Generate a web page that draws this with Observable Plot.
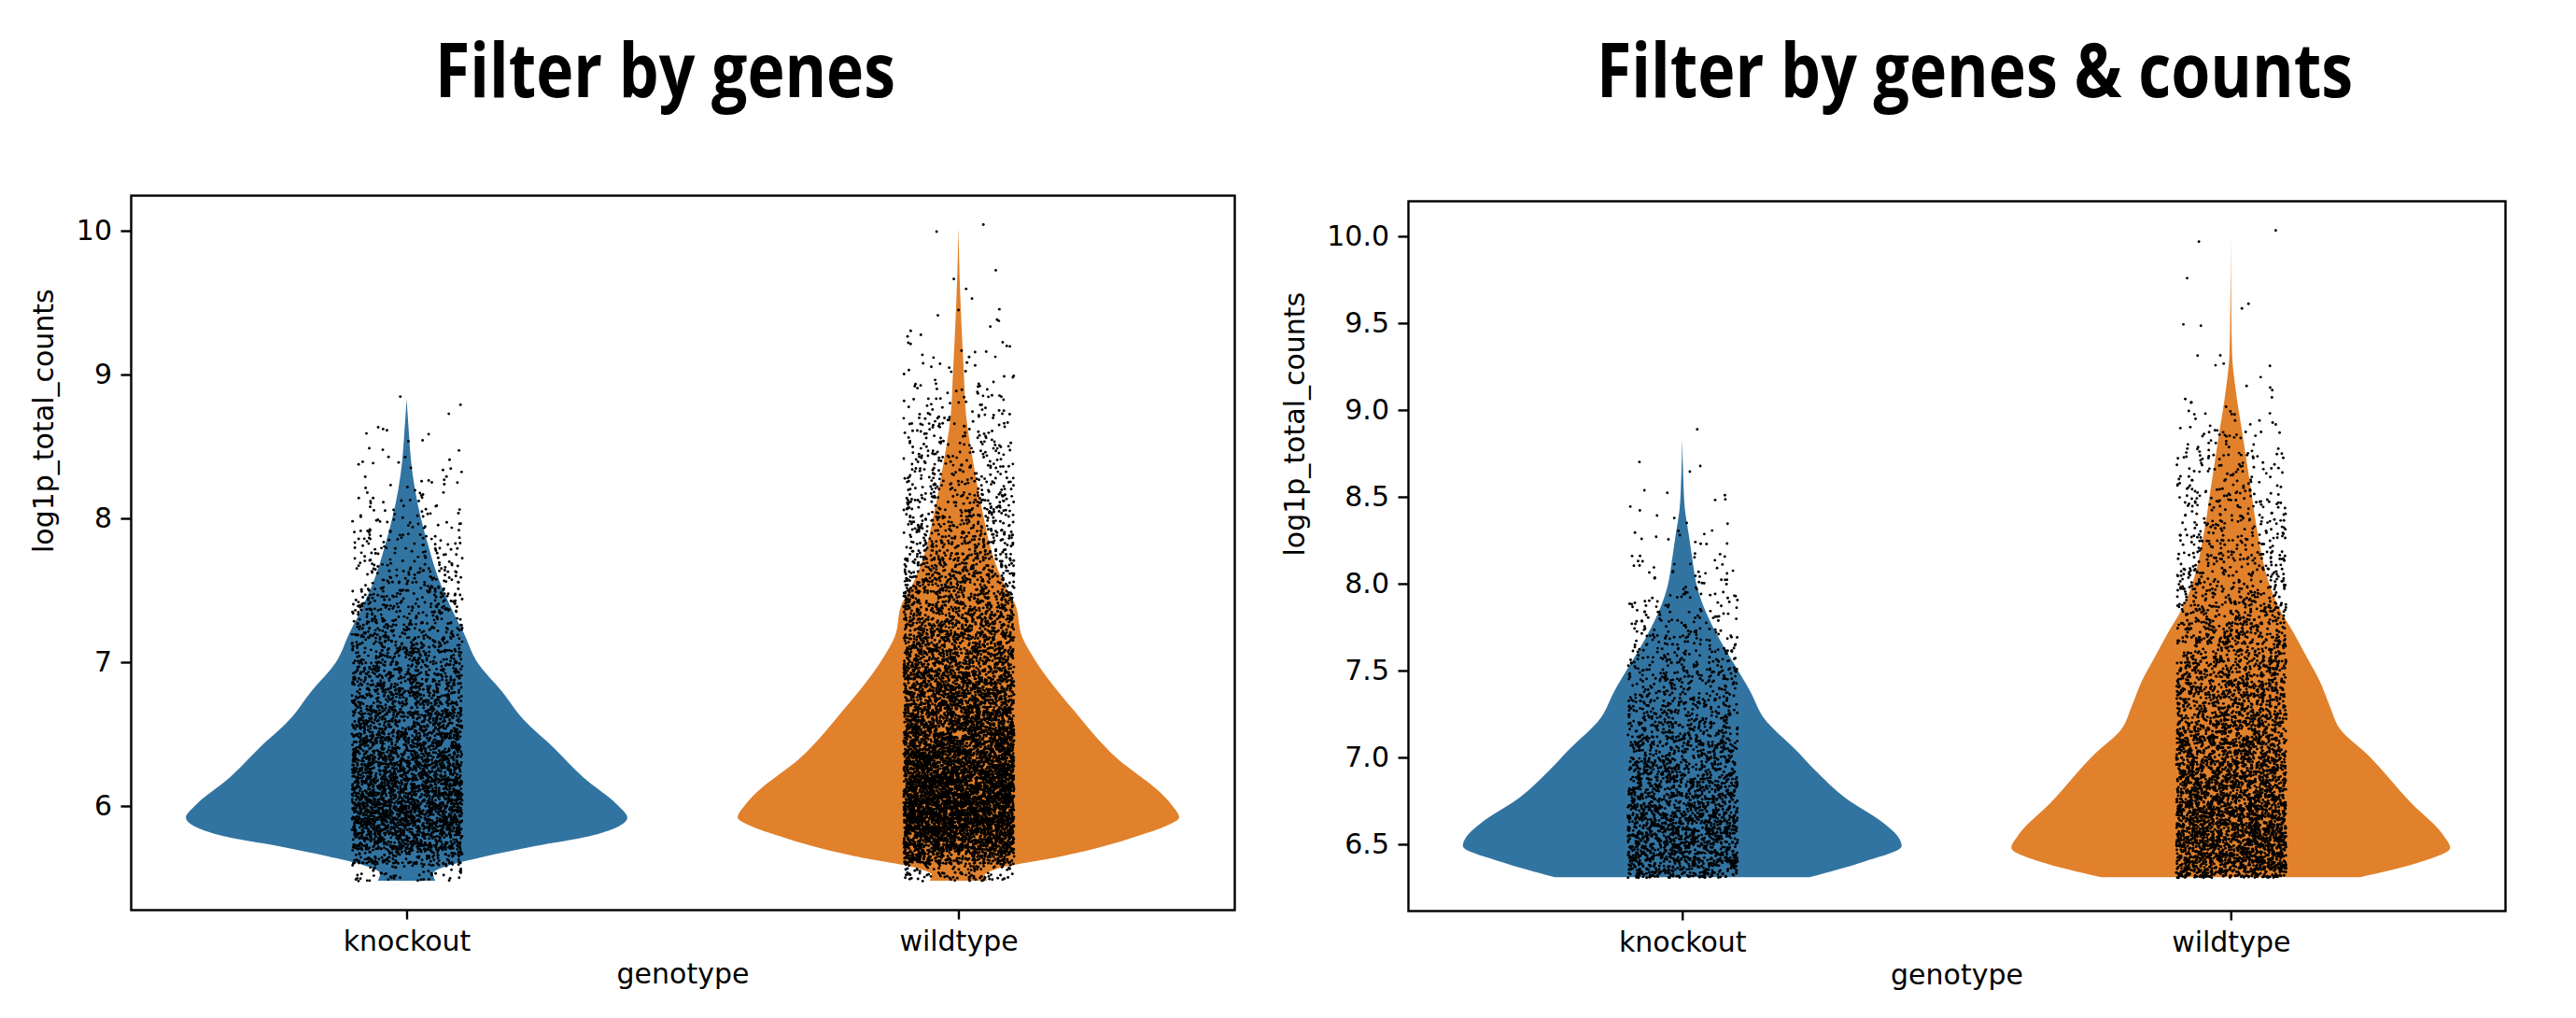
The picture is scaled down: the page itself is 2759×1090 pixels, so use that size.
<!DOCTYPE html>
<html><head><meta charset="utf-8">
<script src="https://cdn.jsdelivr.net/npm/d3@7"></script>
<script src="https://cdn.jsdelivr.net/npm/@observablehq/plot@0.6"></script>
<style>
body{margin:0;background:#fff;}
#root{position:relative;width:2759px;height:1090px;overflow:hidden;background:#fff;}
.title{position:absolute;top:33px;font-family:"Open Sans",sans-serif;font-weight:700;font-size:80px;white-space:nowrap;line-height:1;transform-origin:left top;color:#000;}
.panel{position:absolute;top:150px;}
</style></head><body><div id="root"></div>
<script>
// ---------- data ----------
const genotypes = ["knockout", "wildtype"];
const panelTitles = ["Filter by genes", "Filter by genes & counts"];
const yLabel = "log1p_total_counts";
const xLabel = "genotype";
const colors = ["#3274a1", "#e1812c"];
const ticksGenes = [6, 7, 8, 9, 10];
const ticksCounts = [6.5, 7.0, 7.5, 8.0, 8.5, 9.0, 9.5, 10.0];

// violin outlines: y value and relative half-width (1 = widest)
const koGenesV = [5.48, 5.53, 5.59, 5.65, 5.72, 5.79, 5.85, 5.92, 6.0, 6.2, 6.4, 6.6, 6.8, 7.0, 7.2, 7.4, 7.6, 7.8, 8.0, 8.2, 8.4, 8.6, 8.83];
const koGenesW = [0.13, 0.12, 0.20, 0.36, 0.58, 0.83, 0.95, 1.0, 0.96, 0.80, 0.67, 0.53, 0.43, 0.32, 0.26, 0.195, 0.14, 0.10, 0.065, 0.038, 0.02, 0.01, 0];
const wtGenesV = [5.48, 5.52, 5.56, 5.65, 5.72, 5.79, 5.86, 5.92, 6.0, 6.1, 6.33, 6.67, 7.02, 7.17, 7.41, 7.52, 7.7, 8.04, 8.38, 8.73, 9.0, 9.41, 9.7, 10.03];
const wtGenesW = [0.13, 0.12, 0.17, 0.47, 0.66, 0.81, 0.94, 1.0, 0.97, 0.91, 0.72, 0.52, 0.345, 0.29, 0.255, 0.215, 0.165, 0.11, 0.068, 0.034, 0.025, 0.012, 0.005, 0];
const koCountsV = [6.31, 6.40, 6.49, 6.55, 6.62, 6.77, 6.92, 7.04, 7.23, 7.38, 7.53, 7.68, 7.83, 7.98, 8.15, 8.28, 8.43, 8.6, 8.83];
const koCountsW = [0.58, 0.83, 1.0, 0.98, 0.92, 0.74, 0.61, 0.52, 0.37, 0.31, 0.24, 0.17, 0.11, 0.068, 0.045, 0.03, 0.012, 0.005, 0];
const wtCountsV = [6.31, 6.40, 6.48, 6.55, 6.74, 7.02, 7.16, 7.30, 7.44, 7.58, 7.72, 7.86, 8.0, 8.28, 8.56, 8.84, 9.13, 9.32, 9.6, 10.01];
const wtCountsW = [0.59, 0.87, 1.0, 0.97, 0.82, 0.62, 0.50, 0.45, 0.405, 0.345, 0.285, 0.22, 0.175, 0.124, 0.09, 0.056, 0.021, 0.006, 0.002, 0];

// strip points: number of cells per 0.1-wide bin of log1p_total_counts
const genesBinStart = 5.5, genesMin = 5.48;
const koGenesCounts = [60,150,270,358,374,355,328,301,272,245,221,197,176,157,139,123,107,94,82,69,58,46,38,32,26,19,15,11,8,6,4,3,2,1];
const wtGenesCounts = [104,317,484,619,671,648,605,553,504,461,420,380,346,311,276,245,219,196,179,158,141,124,109,95,84,78,66,58,49,43,37,32,26,20,15,10,8,6,4,3,2,1,1,0,1,1];
const countsBinStart = 6.3, countsMin = 6.31;
const koCountsCounts = [216,286,295,269,235,210,188,159,132,114,102,89,74,60,47,36,25,19,14,10,6,4,3,2,1,1];
const wtCountsCounts = [338,428,444,415,382,347,313,286,251,222,208,193,174,151,131,112,93,79,69,62,54,48,42,37,31,25,15,5,4,3,2,2,1,1,1,0,1,1];

// ---------- helpers ----------
function outline(V, W, cat) { return V.map((v, j) => ({v, w: W[j], cat})); }
// deterministic hash used only to spread dots inside their bin (strip-plot jitter)
function hash(n) {
  let x = n | 0;
  x = Math.imul(x ^ (x >>> 16), 0x45d9f3b);
  x = Math.imul(x ^ (x >>> 16), 0x45d9f3b);
  x ^= x >>> 16;
  return (x >>> 0) / 4294967296;
}
function strip(counts, start, minV, cat, seed) {
  const pts = []; let n = seed;
  counts.forEach((c, i) => {
    const lo = i === 0 ? minV : start + 0.1 * i, hi = start + 0.1 * (i + 1);
    for (let k = 0; k < c; k++, n++) {
      const u = hash(2 * n + 1), t = hash(2 * n + 2);
      pts.push({x: cat + (u - 0.5) * 0.2, y: lo + t * (hi - lo)});
    }
  });
  return pts;
}

function panel(cfg) {
  const pts = cfg.counts.flatMap((c, i) => strip(c, cfg.binStart, cfg.minV, i, cfg.seed + i * 50021));
  return Plot.plot({
    width: cfg.width, height: 940,
    marginLeft: cfg.ml, marginRight: cfg.mr, marginTop: cfg.mt, marginBottom: cfg.mb,
    style: {fontFamily: "DejaVu Sans", color: "black", background: "white"},
    x: {domain: [-0.5, 1.5], axis: null},
    y: {domain: cfg.yDomain, axis: null},
    marks: [
      ...cfg.outlines.map((o, i) => Plot.areaX(outline(o[0], o[1], i), {
        y: "v", x1: d => d.cat - 0.4 * d.w, x2: d => d.cat + 0.4 * d.w,
        fill: colors[i], curve: "monotone-y"})),
      Plot.dot(pts, {x: "x", y: "y", r: 1.45, fill: "black"}),
      Plot.frame({stroke: "black", strokeWidth: 2.4}),
      Plot.axisY(cfg.ticks, {tickSize: 10.5, tickPadding: 10, strokeWidth: 2.4, fontSize: 30, tickFormat: cfg.fmt, label: null}),
      Plot.axisX([0, 1], {tickSize: 10.5, tickPadding: 12, strokeWidth: 2.4, fontSize: 30, tickFormat: i => genotypes[i], label: null}),
      Plot.text([yLabel], {frameAnchor: "left", dx: cfg.yLabelDx, rotate: -90, fontSize: 30, fill: "black"}),
      Plot.text([xLabel], {frameAnchor: "bottom", dy: 78, fontSize: 30, fill: "black"})
    ]
  });
}

const root = document.getElementById("root");
const left = panel({
  width: 1400, ml: 140, mr: 78, mt: 59, mb: 116,
  yDomain: [5.279, 10.247], ticks: ticksGenes, fmt: d3.format("d"), yLabelDx: -93,
  outlines: [[koGenesV, koGenesW], [wtGenesV, wtGenesW]],
  counts: [koGenesCounts, wtGenesCounts], binStart: genesBinStart, minV: genesMin, seed: 11
});
left.classList.add("panel"); left.style.left = "0px";
root.appendChild(left);
const right = panel({
  width: 1419, ml: 168, mr: 76, mt: 65, mb: 115,
  yDomain: [6.118, 10.204], ticks: ticksCounts, fmt: d3.format(".1f"), yLabelDx: -121,
  outlines: [[koCountsV, koCountsW], [wtCountsV, wtCountsW]],
  counts: [koCountsCounts, wtCountsCounts], binStart: countsBinStart, minV: countsMin, seed: 200003
});
right.classList.add("panel"); right.style.left = "1340px";
root.appendChild(right);

// titles
const titleBoxes = [[466, 959], [1710, 2520]];
panelTitles.forEach((t, i) => {
  const d = document.createElement("div");
  d.className = "title"; d.textContent = t;
  d.style.left = titleBoxes[i][0] + "px";
  root.appendChild(d);
  const w = d.getBoundingClientRect().width;
  d.style.transform = `scaleX(${(titleBoxes[i][1] - titleBoxes[i][0]) / w})`;
});
</script></body></html>
